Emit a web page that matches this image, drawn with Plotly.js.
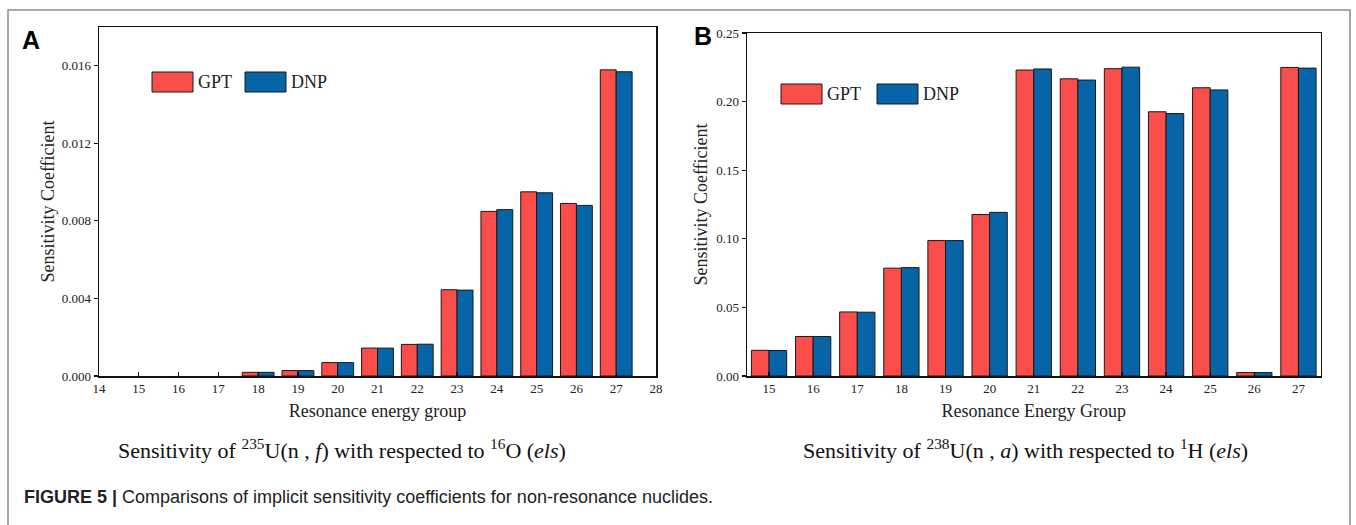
<!DOCTYPE html>
<html>
<head>
<meta charset="utf-8">
<script src="https://cdn.plot.ly/plotly-3.0.1.min.js"></script>
<style>html,body{margin:0;padding:0;background:#fff;}#chart{width:1356px;height:525px;}</style>
</head>
<body>
<div id="chart"></div>
<script>
// ---------- data ----------
const groupsA = [15, 16, 17, 18, 19, 20, 21, 22, 23, 24, 25, 26, 27];
const gptA = [0, 0, 0, 0.00019, 0.00028, 0.00069, 0.00144, 0.00163, 0.00445, 0.00849, 0.00950, 0.00890, 0.01579];
const dnpA = [0, 0, 0, 0.00019, 0.00028, 0.00069, 0.00144, 0.00164, 0.00443, 0.00858, 0.00945, 0.00880, 0.01569];

const groupsB = [15, 16, 17, 18, 19, 20, 21, 22, 23, 24, 25, 26, 27];
const gptB = [0.0187, 0.0288, 0.0467, 0.0786, 0.0987, 0.1177, 0.2230, 0.2166, 0.2240, 0.1926, 0.2101, 0.0025, 0.2249];
const dnpB = [0.0186, 0.0288, 0.0465, 0.0790, 0.0987, 0.1193, 0.2238, 0.2157, 0.2251, 0.1913, 0.2085, 0.0025, 0.2244];

const yTicksA = [0, 0.004, 0.008, 0.012, 0.016];
const yTicksB = [0, 0.05, 0.10, 0.15, 0.20, 0.25];
const xTicksA = [14, 15, 16, 17, 18, 19, 20, 21, 22, 23, 24, 25, 26, 27, 28];

const seriesNames = ['GPT', 'DNP'];
// ---------- style ----------
const W = 1356, H = 525;
const RED = '#fb4d49', BLUE = '#0764a7';
const SERIF = 'Liberation Serif, Times New Roman, serif';
const SANS = 'Liberation Sans, Arial, sans-serif';
const X = p => p / W;
const Y = p => 1 - p / H;

// no outline on zero-height bars
const lineFor = vals => ({color: '#1a1a1a', width: vals.map(v => (v === 0 ? 0 : 1))});
const traces = [
  {type: 'bar', x: groupsA, y: gptA, name: seriesNames[0], marker: {color: RED, line: lineFor(gptA)}, xaxis: 'x', yaxis: 'y', showlegend: false},
  {type: 'bar', x: groupsA, y: dnpA, name: seriesNames[1], marker: {color: BLUE, line: lineFor(dnpA)}, xaxis: 'x', yaxis: 'y', showlegend: false},
  {type: 'bar', x: groupsB, y: gptB, name: seriesNames[0], marker: {color: RED, line: lineFor(gptB)}, xaxis: 'x2', yaxis: 'y2', showlegend: false},
  {type: 'bar', x: groupsB, y: dnpB, name: seriesNames[1], marker: {color: BLUE, line: lineFor(dnpB)}, xaxis: 'x2', yaxis: 'y2', showlegend: false}
];

const axisCommon = {
  showline: true, linecolor: '#111', linewidth: 1.5, mirror: true,
  showgrid: false, zeroline: false,
  tickfont: {family: SERIF, size: 13, color: '#222'},
  tickcolor: '#111', ticklen: 4, tickwidth: 1.2
};
const titleFont = {family: SERIF, size: 18, color: '#222'};

const layout = {
  width: W, height: H,
  margin: {l: 0, r: 0, t: 0, b: 0, pad: 0},
  paper_bgcolor: '#fff', plot_bgcolor: '#fff',
  barmode: 'group', bargap: 0.2, bargroupgap: 0,
  showlegend: false,
  xaxis: Object.assign({}, axisCommon, {
    domain: [X(99), X(656)], range: [14, 28], tickvals: xTicksA, ticks: 'inside',
    anchor: 'y',
    title: {text: 'Resonance energy group', font: titleFont, standoff: 9}
  }),
  yaxis: Object.assign({}, axisCommon, {
    domain: [Y(376), Y(27)], range: [0, 0.018], tickvals: yTicksA, tickformat: '.3f', ticks: 'outside',
    anchor: 'x',
    title: {text: 'Sensitivity Coefficient', font: titleFont, standoff: 2}
  }),
  xaxis2: Object.assign({}, axisCommon, {
    domain: [X(747), X(1320.5)], range: [14.5, 27.5], tickvals: groupsB, ticks: 'inside',
    anchor: 'y2',
    title: {text: 'Resonance Energy Group', font: titleFont, standoff: 9}
  }),
  yaxis2: Object.assign({}, axisCommon, {
    domain: [Y(376), Y(33)], range: [0, 0.25], tickvals: yTicksB, tickformat: '.2f', ticks: 'outside',
    anchor: 'x2',
    title: {text: 'Sensitivity Coefficient', font: titleFont, standoff: 4}
  }),
  shapes: [
    // figure frame
    {type: 'path', xref: 'paper', yref: 'paper',
     path: `M ${X(8)} ${Y(540)} L ${X(8)} ${Y(10)} L ${X(1350)} ${Y(10)} L ${X(1350)} ${Y(540)}`,
     line: {color: '#8a8a8a', width: 1.5}},
    // legend A
    {type: 'rect', xref: 'paper', yref: 'paper', x0: X(152), x1: X(193), y0: Y(92), y1: Y(72), fillcolor: RED, line: {color: '#1a1a1a', width: 1}},
    {type: 'rect', xref: 'paper', yref: 'paper', x0: X(245), x1: X(286), y0: Y(92), y1: Y(72), fillcolor: BLUE, line: {color: '#1a1a1a', width: 1}},
    // legend B
    {type: 'rect', xref: 'paper', yref: 'paper', x0: X(781), x1: X(822), y0: Y(104), y1: Y(84), fillcolor: RED, line: {color: '#1a1a1a', width: 1}},
    {type: 'rect', xref: 'paper', yref: 'paper', x0: X(877), x1: X(918), y0: Y(104), y1: Y(84), fillcolor: BLUE, line: {color: '#1a1a1a', width: 1}}
  ],
  annotations: [
    {xref: 'paper', yref: 'paper', x: X(196), y: Y(82), text: seriesNames[0], showarrow: false, xanchor: 'left', yanchor: 'middle', font: {family: SERIF, size: 18, color: '#222'}},
    {xref: 'paper', yref: 'paper', x: X(289), y: Y(82), text: seriesNames[1], showarrow: false, xanchor: 'left', yanchor: 'middle', font: {family: SERIF, size: 18, color: '#222'}},
    {xref: 'paper', yref: 'paper', x: X(825), y: Y(94), text: seriesNames[0], showarrow: false, xanchor: 'left', yanchor: 'middle', font: {family: SERIF, size: 18, color: '#222'}},
    {xref: 'paper', yref: 'paper', x: X(921), y: Y(94), text: seriesNames[1], showarrow: false, xanchor: 'left', yanchor: 'middle', font: {family: SERIF, size: 18, color: '#222'}},
    // panel letters
    {xref: 'paper', yref: 'paper', x: X(31), y: Y(40), text: '<b>A</b>', showarrow: false, xanchor: 'center', yanchor: 'middle', font: {family: SANS, size: 25, color: '#000'}},
    {xref: 'paper', yref: 'paper', x: X(703), y: Y(36), text: '<b>B</b>', showarrow: false, xanchor: 'center', yanchor: 'middle', font: {family: SANS, size: 25, color: '#000'}},
    // panel captions
    {xref: 'paper', yref: 'paper', x: X(342), y: Y(449), showarrow: false, xanchor: 'center', yanchor: 'middle',
     text: 'Sensitivity of <sup>235</sup>U(n , <i>f</i>) with respected to <sup>16</sup>O (<i>els</i>)',
     font: {family: SERIF, size: 22, color: '#111'}},
    {xref: 'paper', yref: 'paper', x: X(1025), y: Y(449), showarrow: false, xanchor: 'center', yanchor: 'middle',
     text: 'Sensitivity of <sup>238</sup>U(n , <i>a</i>) with respected to <sup>1</sup>H (<i>els</i>)',
     font: {family: SERIF, size: 22, color: '#111'}},
    // figure caption
    {xref: 'paper', yref: 'paper', x: X(22), y: Y(497), showarrow: false, xanchor: 'left', yanchor: 'middle',
     text: '<b>FIGURE 5 |</b> Comparisons of implicit sensitivity coefficients for non-resonance nuclides.',
     font: {family: SANS, size: 18, color: '#222'}}
  ]
};

Plotly.newPlot('chart', traces, layout, {displayModeBar: false, staticPlot: true});
</script>
</body>
</html>
